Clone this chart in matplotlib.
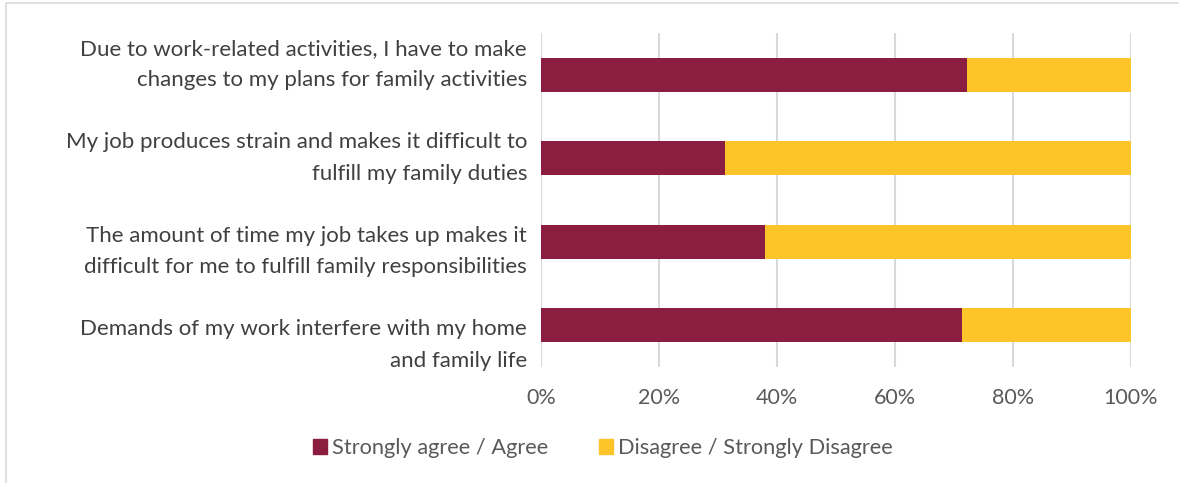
import numpy as np
import matplotlib.pyplot as plt
from matplotlib.patches import Rectangle, Patch

statements = [
    "Due to work-related activities, I have to make\nchanges to my plans for family activities",
    "My job produces strain and makes it difficult to\nfulfill my family duties",
    "The amount of time my job takes up makes it\ndifficult for me to fulfill family responsibilities",
    "Demands of my work interfere with my home\nand family life",
]
agree = [72.2, 31.2, 37.9, 71.4]
disagree = [100 - a for a in agree]
series_names = ["Strongly agree / Agree", "Disagree / Strongly Disagree"]
x_ticks = [0, 20, 40, 60, 80, 100]

MAROON = "#8B1D41"
GOLD = "#FDC52A"
GRID = "#D9D9D9"

plt.rcParams["font.family"] = ["Lato", "DejaVu Sans"]

fig = plt.figure(figsize=(11.79, 4.83), dpi=100)
ax = fig.add_axes([541 / 1179, 1 - 367 / 483, 590 / 1179, 334 / 483])

pos = np.arange(len(statements))
ax.barh(pos, agree, height=0.41, color=MAROON, zorder=3)
ax.barh(pos, disagree, left=agree, height=0.41, color=GOLD, zorder=3)

ax.set_xlim(0, 100)
ax.set_ylim(len(statements) - 0.5, -0.5)
ax.set_xticks(x_ticks)
ax.set_xticklabels([f"{t}%" for t in x_ticks])
ax.grid(axis="x", color=GRID, linewidth=1.5, zorder=0)
for s in ax.spines.values():
    s.set_visible(False)

# category labels sit a little further apart than the bars
mid = (len(statements) - 1) / 2
ax.set_yticks(mid - 0.035 + (pos - mid) * 1.12)
ax.set_yticklabels(statements, fontsize=16, color="#404040", linespacing=1.7)
ax.tick_params(axis="y", length=0, pad=10)
ax.tick_params(axis="x", length=0, pad=15, labelsize=15.5, labelcolor="#595959")

handles = [Patch(color=MAROON), Patch(color=GOLD)]
fig.legend(handles, series_names, loc="center", bbox_to_anchor=(603 / 1179, 1 - 448 / 483),
           ncol=2, frameon=False, fontsize=15.7, labelcolor="#595959",
           handlelength=0.65, handleheight=0.65, handletextpad=0.25, columnspacing=2.3)

# chart border
fig.patches.append(Rectangle((5.5 / 1179, -0.1), 1.2, 1 - 3 / 483 + 0.1,
                             transform=fig.transFigure, fill=False,
                             edgecolor=GRID, linewidth=1.2))

fig.savefig("out.png", dpi=100, facecolor="white")
